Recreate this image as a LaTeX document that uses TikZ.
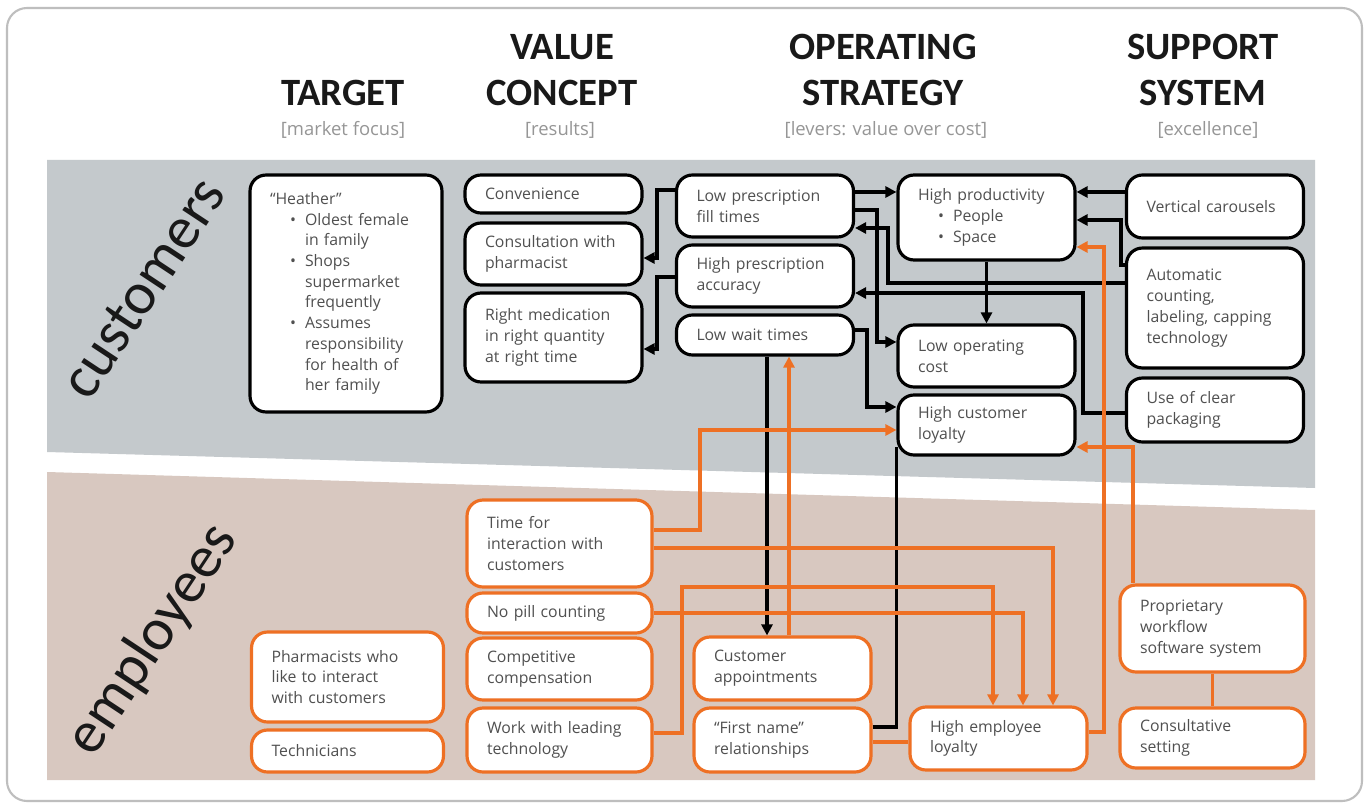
\documentclass[tikz,border=0pt]{standalone}
\usepackage{fontspec}
\setmainfont{Open Sans}
\newfontfamily\hdfont{Carlito}
\usetikzlibrary{arrows.meta}

\definecolor{orng}{RGB}{238,112,36}
\definecolor{bandgray}{RGB}{196,201,204}
\definecolor{bandpink}{RGB}{216,200,192}
\definecolor{txtgray}{RGB}{80,80,80}
\definecolor{subgray}{RGB}{150,150,150}
\definecolor{framegray}{RGB}{190,190,190}

\newcommand{\hbul}[1]{\hspace*{0.4cm}\makebox[0.3cm][l]{\textbullet}#1}
\newcommand{\hcont}[1]{\hspace*{0.7cm}#1}

\begin{document}
\begin{tikzpicture}[x=0.02cm,y=-0.02cm,
  box/.style={draw, line width=1.8pt, rounded corners=0.32cm, fill=white, align=left,
    inner xsep=0.4cm, inner ysep=0pt, text=txtgray, font=\fontsize{9}{11.8}\selectfont},
  bbox/.style={box, draw=black},
  obox/.style={box, draw=orng},
  wa/.style={minimum width=3.54cm, text width=2.74cm},
  wb/.style={minimum width=3.7cm, text width=2.9cm},
  wc/.style={minimum width=3.84cm, text width=3.04cm},
  hd/.style={font=\hdfont\bfseries\fontsize{22}{26}\selectfont, align=center, text=black!90},
  sub/.style={font=\fontsize{10.5}{12}\selectfont, text=subgray},
  lab/.style={font=\hdfont\fontsize{34}{40}\selectfont, text=black!90, rotate=56.5},
  bk/.style={draw=black, line width=1.8pt},
  ol/.style={draw=orng, line width=1.8pt},
  tip/.style={-{Triangle[length=2.2mm,width=2.2mm]}}]

\useasboundingbox (0,0) rectangle (1367,811);
\fill[white] (0,0) rectangle (1367,811);
\draw[framegray, line width=1.2pt, rounded corners=0.4cm] (7,8) rectangle (1362,801);

% bands
\fill[bandgray] (47,160) -- (1315,160) -- (1315,488) -- (47,452) -- cycle;
\fill[bandpink] (47,472) -- (1315,510) -- (1315,780) -- (47,780) -- cycle;

\node[lab] (cust) at (143,288) {customers};
\node[lab] (empl) at (153,640) {employees};

% column heads
\node[hd] (tgt) at (343,93) {TARGET};
\node[hd] (val) at (562,70) {VALUE\\CONCEPT};
\node[hd] (ops) at (883,70) {OPERATING\\STRATEGY};
\node[hd] (sup) at (1203,70) {SUPPORT\\SYSTEM};
\node[sub] (tgts) at (343,130) {[market focus]};
\node[sub] (vals) at (560,130) {[results]};
\node[sub] (opss) at (886,130) {[levers: value over cost]};
\node[sub] (sups) at (1208,130) {[excellence]};

% customers
\node[bbox, wc, minimum height=4.74cm] (heather) at (346,293.5) {“Heather”\\
  \hbul{Oldest female}\\ \hcont{in family}\\
  \hbul{Shops}\\ \hcont{supermarket}\\ \hcont{frequently}\\
  \hbul{Assumes}\\ \hcont{responsibility}\\ \hcont{for health of}\\ \hcont{her family}};
\node[bbox, wa, minimum height=0.76cm] (convn) at (553.5,194) {Convenience};
\node[bbox, wa, minimum height=1.24cm] (consult) at (553.5,254) {Consultation with\\pharmacist};
\node[bbox, wa, minimum height=1.78cm] (rightmed) at (553.5,337.5) {Right medication\\in right quantity\\at right time};
\node[bbox, wa, minimum height=1.24cm] (fill) at (765,206) {Low prescription\\fill times};
\node[bbox, wa, minimum height=1.24cm] (acc) at (765,276) {High prescription\\accuracy};
\node[bbox, wa, minimum height=0.80cm] (wait) at (765,335) {Low wait times};
\node[bbox, wa, minimum height=1.70cm] (prod) at (986.5,217.5) {High productivity\\
  \hbul{People}\\ \hbul{Space}};
\node[bbox, wa, minimum height=1.24cm] (opcost) at (986.5,356) {Low operating\\cost};
\node[bbox, wa, minimum height=1.20cm] (custloy) at (986.5,425) {High customer\\loyalty};
\node[bbox, wa, minimum height=1.26cm] (carou) at (1215,206.5) {Vertical carousels};
\node[bbox, wa, minimum height=2.40cm] (auto) at (1215,308) {Automatic\\counting,\\labeling, capping\\technology};
\node[bbox, wa, minimum height=1.28cm] (pack) at (1215,410) {Use of clear\\packaging};

% employees
\node[obox, wc, minimum height=1.80cm] (pharm) at (347.5,677) {Pharmacists who\\like to interact\\with customers};
\node[obox, wc, minimum height=0.84cm] (techn) at (347.5,751) {Technicians};
\node[obox, wb, minimum height=1.74cm] (time) at (559.5,543.5) {Time for\\interaction with\\customers};
\node[obox, wb, minimum height=0.80cm] (nopill) at (559.5,613) {No pill counting};
\node[obox, wb, minimum height=1.24cm] (comp) at (559.5,669) {Competitive\\compensation};
\node[obox, wb, minimum height=1.28cm] (tech) at (559.5,740) {Work with leading\\technology};
\node[obox, wa, minimum height=1.26cm] (appt) at (782.5,668.5) {Customer\\appointments};
\node[obox, wa, minimum height=1.28cm] (first) at (782.5,740) {“First name”\\relationships};
\node[obox, wa, minimum height=1.26cm] (employ) at (998.5,738.5) {High employee\\loyalty};
\node[obox, wb, minimum height=1.74cm] (flow) at (1212.5,628.5) {Proprietary\\workflow\\software system};
\node[obox, wb, minimum height=1.20cm] (consset) at (1212.5,738) {Consultative\\setting};

% black links
\draw[bk,tip] (fill.west |- 0,190) -| (657,258) -- (consult.east |- 0,258);
\draw[bk,tip] (acc.west |- 0,277) -| (657,349) -- (rightmed.east |- 0,349);
\draw[bk,tip] (fill.east |- 0,192) -- (prod.west |- 0,192);
\draw[bk,tip] (fill.east |- 0,210) -| (877,342) -- (opcost.west |- 0,342);
\draw[bk,tip] (auto.west |- 0,283) -| (888,228) -- (fill.east |- 0,228);
\draw[bk,tip] (pack.west |- 0,413) -| (1083,293) -- (acc.east |- 0,293);
\draw[bk,tip] (prod.south) -- (opcost.north);
\draw[bk,tip] (wait.east |- 0,330) -| (867,407) -- (custloy.west |- 0,407);
\draw[bk,tip] (carou.west |- 0,192) -- (prod.east |- 0,192);
\draw[bk,tip] (auto.west |- 0,265) -| (1121,220) -- (prod.east |- 0,220);
\draw[bk,tip] (wait.south -| 767,0) -- (appt.north -| 767,0);
\draw[bk] (first.east |- 0,727) -| (custloy.west |- 0,447);

% orange links
\draw[ol,tip] (time.east |- 0,530) -| (700,430) -- (custloy.west |- 0,430);
\draw[ol,tip] (time.east |- 0,548) -| (employ.north -| 1053,0);
\draw[ol,tip] (tech.east |- 0,733) -| (682,587) -| (employ.north -| 993,0);
\draw[ol,tip] (nopill.east) -| (employ.north -| 1023,0);
\draw[ol,tip] (appt.north -| 789,0) -- (wait.south -| 789,0);
\draw[ol,tip] (employ.east |- 0,732) -| (1104,247) -- (prod.east |- 0,247);
\draw[ol,tip] (flow.north -| 1133,0) |- (custloy.east |- 0,447);
\draw[ol] (flow.south) -- (consset.north);
\draw[ol] (first.east |- 0,742) -- (employ.west |- 0,742);

\end{tikzpicture}
\end{document}
